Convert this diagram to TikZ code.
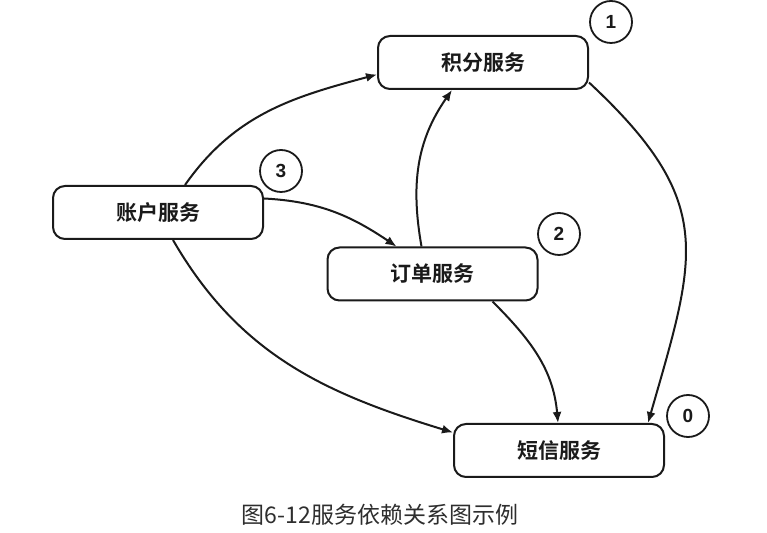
\documentclass[tikz,border=0pt]{standalone}
\usepackage{fontspec}
\newfontfamily\cjk{Noto Sans CJK SC}[BoldFont={Noto Sans CJK SC Bold}]
\newfontfamily\digitfont{Liberation Sans}
\usetikzlibrary{arrows.meta}
\definecolor{ink}{HTML}{1A1A1A}
\definecolor{captiongray}{HTML}{2E2E2E}
\begin{document}
\begin{tikzpicture}[x=1pt,y=1pt,
  svc/.style={draw=ink,line width=2pt,rounded corners=12pt,minimum width=210pt,minimum height=53pt,inner sep=0pt,font=\cjk\bfseries\fontsize{21}{24}\selectfont,text=ink},
  num/.style={draw=ink,circle,line width=1.8pt,minimum size=42pt,inner sep=0pt,font=\digitfont\bfseries\fontsize{19}{22}\selectfont,text=ink},
  dep/.style={draw=ink,line width=2pt,-{Latex[length=11pt,width=9pt]}}]
\useasboundingbox (0,0) rectangle (767,532);
\fill[white] (0,0) rectangle (767,532);
% services
\node[svc] (zh) at (158,319.5) {账户服务};
\node[svc] (jf) at (483,469.5) {积分服务};
\node[svc] (dd) at (432.5,258) {订单服务};
\node[svc] (dx) at (559,81.5) {短信服务};
% order numbers
\node[num] (c1) at (611,510) {1};
\node[num] (c3) at (281,361) {3};
\node[num] (c2) at (559,298) {2};
\node[num] (c0) at (688,116) {0};
% dependencies
\draw[dep] ([xshift=27pt]zh.north) to[out=55,in=195] ([yshift=-12pt]jf.west);
\draw[dep] ([yshift=14pt]zh.east) to[out=-3,in=146] ([xshift=-36pt]dd.north);
\draw[dep] ([xshift=15pt]zh.south) to[out=-60,in=163] ([yshift=18pt]dx.west);
\draw[dep] ([xshift=-11pt]dd.north) to[out=100,in=235] ([xshift=-31pt]jf.south);
\draw[dep] ([xshift=60pt]dd.south) to[out=-45,in=95] ([xshift=-1pt]dx.north);
\draw[dep] ([yshift=-20pt]jf.east) to[out=-43,in=74,looseness=1.3] ([xshift=89pt]dx.north);
% caption
\node[font=\cjk\fontsize{23}{26}\selectfont,text=captiongray] (cap) at (380,17) {图6-12服务依赖关系图示例};
\end{tikzpicture}
\end{document}
